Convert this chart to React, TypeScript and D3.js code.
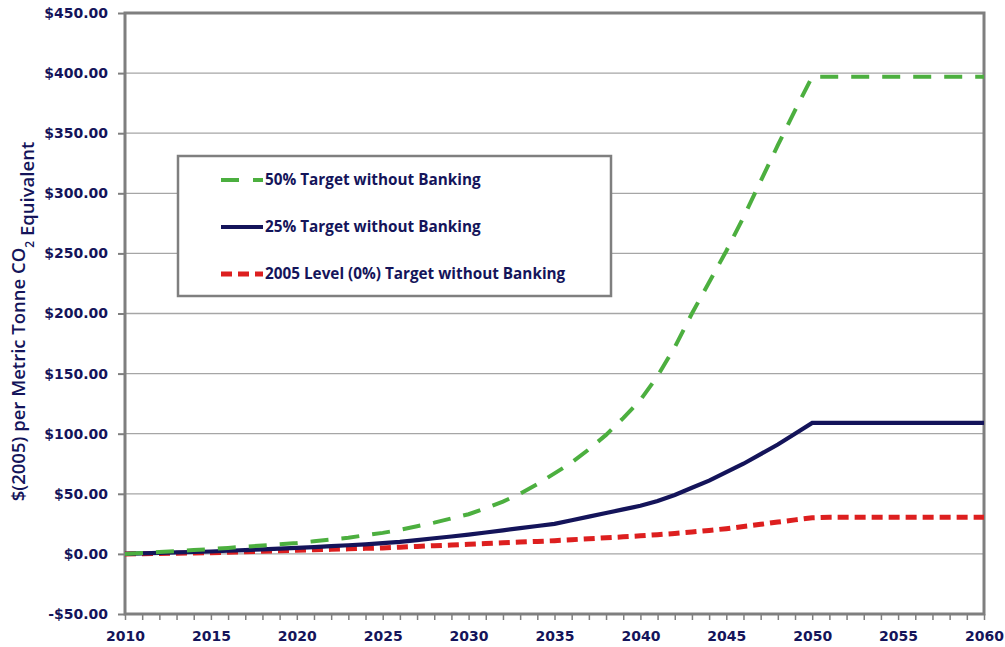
import React, { useEffect, useRef } from "react";
import * as d3 from "d3";

const years = d3.range(2010, 2061);

const target50 = [
  0, 0.8, 1.6, 2.4, 3.2, 4, 5, 6, 7, 8,
  9, 10.5, 12, 13.5, 15.5, 17.5, 20, 23, 26, 29.5,
  33, 38, 43.5, 50, 58, 67, 76, 87, 99, 113,
  128, 148, 172, 200, 226, 252, 280, 310, 340, 369,
  397, 397, 397, 397, 397, 397, 397, 397, 397, 397, 397,
];

const target25 = [
  0, 0.4, 0.8, 1.2, 1.6, 2, 2.6, 3.2, 3.8, 4.4,
  5, 5.7, 6.4, 7.2, 8, 9, 10, 11.5, 13, 14.5,
  16, 17.8, 19.6, 21.4, 23.2, 25, 28, 31, 34, 37,
  40, 44, 49, 55, 61, 68, 75, 83, 91, 100,
  109, 109, 109, 109, 109, 109, 109, 109, 109, 109, 109,
];

const target0 = [
  0, 0.2, 0.4, 0.6, 0.8, 1, 1.4, 1.8, 2.2, 2.6,
  3, 3.4, 3.8, 4.2, 4.6, 5, 5.6, 6.2, 6.8, 7.4,
  8, 8.6, 9.2, 9.8, 10.4, 11, 11.8, 12.6, 13.4, 14.2,
  15, 16, 17, 18.2, 19.5, 21, 22.8, 24.6, 26.5, 28.3,
  30, 30.5, 30.5, 30.5, 30.5, 30.5, 30.5, 30.5, 30.5, 30.5, 30.5,
];

const yTicks = [-50, 0, 50, 100, 150, 200, 250, 300, 350, 400, 450];
const xTicks = [2010, 2015, 2020, 2025, 2030, 2035, 2040, 2045, 2050, 2055, 2060];

const seriesNames = [
  "50% Target without Banking",
  "25% Target without Banking",
  "2005 Level (0%) Target without Banking",
];

const navy = "#14145a";

const App = () => {
  const svgRef = useRef<SVGSVGElement>(null);

  useEffect(() => {
    const width = 1005;
    const height = 647;
    const margin = { top: 13, right: 21, bottom: 33, left: 125 };

    const svg = d3.select(svgRef.current)
      .attr("width", width)
      .attr("height", height);

    svg.selectAll("*").remove();

    const x = d3.scaleLinear()
      .domain([2010, 2060])
      .range([margin.left, width - margin.right]);

    const y = d3.scaleLinear()
      .domain([-50, 450])
      .range([height - margin.bottom, margin.top]);

    // gridlines
    svg.append("g")
      .selectAll("line")
      .data(yTicks)
      .join("line")
      .attr("x1", margin.left)
      .attr("x2", width - margin.right)
      .attr("y1", d => y(d))
      .attr("y2", d => y(d))
      .attr("stroke", "#a6a6a6")
      .attr("stroke-width", 1.3);

    // frame
    svg.append("rect")
      .attr("x", margin.left)
      .attr("y", margin.top)
      .attr("width", width - margin.right - margin.left)
      .attr("height", height - margin.bottom - margin.top)
      .attr("fill", "none")
      .attr("stroke", "#7f7f7f")
      .attr("stroke-width", 3);

    // y axis
    const yAxis = svg.append("g")
      .attr("transform", `translate(${margin.left},0)`)
      .call(d3.axisLeft(y).tickValues(yTicks).tickSize(7).tickPadding(10)
        .tickFormat(d => (+d < 0 ? "-$" : "$") + Math.abs(+d).toFixed(2)));
    yAxis.select(".domain").remove();
    yAxis.selectAll("line").attr("stroke", "#7f7f7f").attr("stroke-width", 2);
    yAxis.selectAll("text")
      .attr("fill", navy)
      .style("font-family", "DejaVu Sans")
      .style("font-weight", "bold")
      .style("font-size", "14px");

    // x axis
    const xAxis = svg.append("g")
      .attr("transform", `translate(0,${height - margin.bottom})`)
      .call(d3.axisBottom(x).tickValues(years).tickSize(6).tickPadding(11)
        .tickFormat(d => (xTicks.includes(+d) ? String(d) : "")));
    xAxis.select(".domain").remove();
    xAxis.selectAll("line").attr("stroke", "#7f7f7f").attr("stroke-width", 1.5);
    xAxis.selectAll("text")
      .attr("fill", navy)
      .style("font-family", "DejaVu Sans")
      .style("font-weight", "bold")
      .style("font-size", "14px");

    // axis title
    svg.append("text")
      .attr("transform", `translate(25,${(height - margin.bottom + margin.top) / 2 + 8}) rotate(-90)`)
      .attr("text-anchor", "middle")
      .attr("fill", navy)
      .style("font-family", "Open Sans")
      .style("font-weight", 600)
      .style("font-size", "18.5px")
      .text("$(2005) per Metric Tonne CO")
      .append("tspan")
      .attr("baseline-shift", "sub")
      .style("font-size", "12px")
      .text("2")
      .append("tspan")
      .attr("baseline-shift", "0")
      .style("font-size", "18.5px")
      .text(" Equivalent");

    const line = d3.line<number>()
      .x((_, i) => x(years[i]))
      .y(d => y(d));

    const styles = [
      { data: target50, color: "#4caf3f", width: 4, dash: "18,13" },
      { data: target25, color: navy, width: 4.2, dash: null },
      { data: target0, color: "#dd1f1f", width: 5, dash: "11,6" },
    ];

    // draw order: red, navy, green on top
    [2, 1, 0].forEach(i => {
      const s = styles[i];
      svg.append("path")
        .datum(s.data)
        .attr("fill", "none")
        .attr("stroke", s.color)
        .attr("stroke-width", s.width)
        .attr("stroke-dasharray", s.dash)
        .attr("d", line);
    });

    // legend
    const legend = svg.append("g").attr("transform", "translate(178,156)");
    legend.append("rect")
      .attr("width", 433)
      .attr("height", 140)
      .attr("fill", "white")
      .attr("stroke", "#7f7f7f")
      .attr("stroke-width", 2.5);

    seriesNames.forEach((name, i) => {
      const s = styles[i];
      const item = legend.append("g").attr("transform", `translate(0,${24 + i * 47})`);
      item.append("line")
        .attr("x1", 43)
        .attr("x2", 85)
        .attr("stroke", s.color)
        .attr("stroke-width", s.width)
        .attr("stroke-dasharray", i === 0 ? "18,14" : s.dash);
      item.append("text")
        .attr("x", 87)
        .attr("dy", "0.35em")
        .attr("fill", navy)
        .style("font-family", "Open Sans")
        .style("font-weight", "bold")
        .style("font-size", "15.3px")
        .text(name);
    });
  }, []);

  return (
    <svg ref={svgRef} style={{ position: "absolute", left: 0, top: 0 }}></svg>
  );
};

export default App;
